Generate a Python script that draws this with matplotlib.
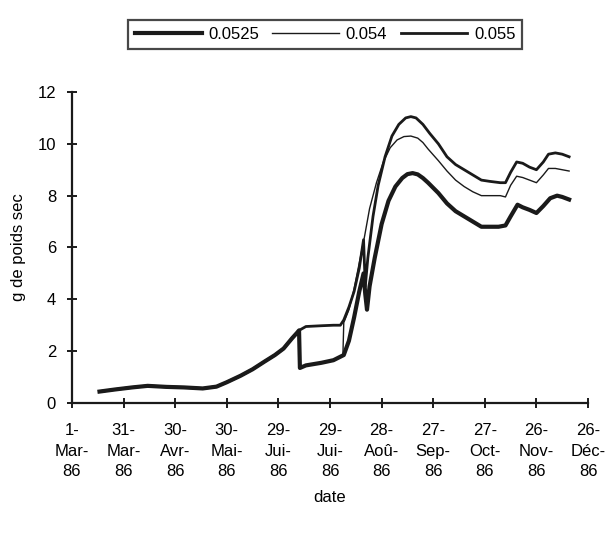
import numpy as np
import matplotlib
matplotlib.use("Agg")
import matplotlib.pyplot as plt

plt.rcParams["font.family"] = "Liberation Sans"
plt.rcParams["font.size"] = 12

# days since 1-Mar-86
common_days = [16, 25, 35, 44, 55, 65, 76, 84, 90, 98, 105, 112, 118, 123, 128, 131, 132]
common_vals = [0.44, 0.52, 0.6, 0.66, 0.62, 0.6, 0.56, 0.63, 0.8, 1.05, 1.3, 1.6, 1.85, 2.1, 2.5, 2.72, 2.8]

# 0.0525 (thick)
d_0525 = [132.5, 136, 145, 152, 158, 161, 164, 167, 169.5, 170.5, 171.5, 173, 176, 180, 184, 188, 192, 195, 198,
          201, 204, 207, 213, 218, 223, 228, 233, 238, 243, 248, 252, 255, 259, 262, 266, 270, 274, 278, 282, 285, 289]
v_0525 = [1.35, 1.45, 1.55, 1.65, 1.85, 2.4, 3.3, 4.3, 5.0, 4.2, 3.6, 4.5, 5.6, 6.9, 7.8, 8.35, 8.68, 8.83, 8.87,
          8.82, 8.68, 8.5, 8.1, 7.7, 7.4, 7.2, 7.0, 6.8, 6.8, 6.8, 6.85, 7.2, 7.65, 7.55, 7.45, 7.33, 7.6, 7.9, 8.0, 7.95, 7.85]

# 0.054 (thin)
d_054 = [132.5, 136, 145, 152, 157.5, 158, 161, 164, 167, 170, 173, 177, 181, 185, 189, 193, 197,
         201, 204, 207, 213, 218, 223, 228, 233, 238, 243, 249, 252, 255, 258.5, 262, 266, 270, 274, 277, 281, 285, 289]
v_054 = [1.35, 1.45, 1.55, 1.65, 1.85, 3.1, 3.6, 4.4, 5.4, 6.4, 7.5, 8.5, 9.3, 9.85, 10.15, 10.28, 10.3,
         10.22, 10.05, 9.8, 9.35, 8.95, 8.6, 8.35, 8.15, 8.0, 8.0, 8.0, 7.95, 8.4, 8.75, 8.7, 8.6, 8.5, 8.8, 9.05, 9.05, 9.0, 8.95]

# 0.055 (medium)
d_055 = [136, 145, 152, 156, 158, 161, 164, 167, 169.5, 170.5, 172, 175, 178, 182, 186, 190, 194, 197,
         200, 204, 208, 213, 218, 223, 228, 233, 238, 243, 249, 252, 255, 258.5, 262, 266, 270, 274, 277, 281, 285, 289]
v_055 = [2.95, 2.98, 3.0, 3.0, 3.2, 3.7, 4.3, 5.2, 6.3, 4.5, 5.6, 7.2, 8.4, 9.5, 10.3, 10.75, 11.0, 11.05,
         11.0, 10.75, 10.4, 10.0, 9.5, 9.2, 9.0, 8.8, 8.6, 8.55, 8.5, 8.5, 8.9, 9.3, 9.25, 9.1, 9.0, 9.3, 9.6, 9.65, 9.6, 9.5]

tick_days = np.arange(0, 301, 30)
tick_labels = ["1-\nMar-\n86", "31-\nMar-\n86", "30-\nAvr-\n86", "30-\nMai-\n86", "29-\nJui-\n86",
               "29-\nJui-\n86", "28-\nAoû-\n86", "27-\nSep-\n86", "27-\nOct-\n86", "26-\nNov-\n86",
               "26-\nDéc-\n86"]

fig = plt.figure(figsize=(6.1, 5.38), dpi=100)
ax = fig.add_axes([0.118, 0.251, 0.846, 0.578])

col = '#1a1a1a'
ax.plot(common_days + d_0525, common_vals + v_0525, color=col, lw=3.0, label='0.0525', solid_joinstyle='round')
ax.plot(common_days + d_054, common_vals + v_054, color=col, lw=1.0, label='0.054')
ax.plot(common_days + d_055, common_vals + v_055, color=col, lw=2.0, label='0.055', solid_joinstyle='round')

ax.set_xlim(0, 300)
ax.set_ylim(0, 12)
ax.set_yticks(np.arange(0, 13, 2))
ax.set_xticks(tick_days)
ax.set_xticklabels(tick_labels, linespacing=1.45)

for s in ['top', 'right']:
    ax.spines[s].set_visible(False)
for s in ['left', 'bottom']:
    ax.spines[s].set_linewidth(1.6)
    ax.spines[s].set_color(col)
ax.tick_params(direction='inout', length=7, width=1.4, color=col, labelsize=12)
ax.tick_params(axis='x', pad=11)
ax.tick_params(axis='y', pad=8)

ax.set_xlabel('date', fontsize=12, labelpad=8)
ax.set_ylabel('g de poids sec', fontsize=12, labelpad=8)

leg = fig.legend(loc='upper center', bbox_to_anchor=(0.533, 0.978), ncol=3, frameon=True, fancybox=False,
                 handlelength=4.0, columnspacing=0.8, handletextpad=0.4, borderpad=0.4, fontsize=12)
leg.get_frame().set_edgecolor(col)
leg.get_frame().set_linewidth(1.6)

plt.savefig("out.png", dpi=100)
